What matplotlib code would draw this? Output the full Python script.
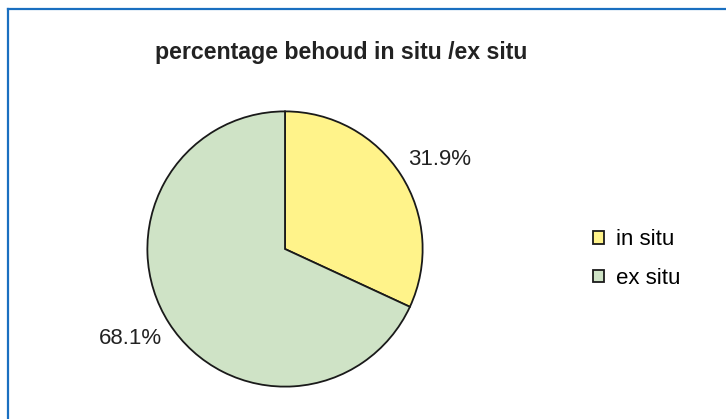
import numpy as np
import matplotlib.pyplot as plt
from matplotlib.lines import Line2D

plt.rcParams['font.family'] = ['Liberation Sans', 'DejaVu Sans']

## data
categories = ['in situ', 'ex situ']
shares = [31.9, 68.1]
colors = ['#fff38a', '#cfe3c6']

W, H = 726, 419
fig = plt.figure(figsize=(W / 100, H / 100), dpi=100)

# blue frame (only left and top edges are visible)
fig.add_artist(Line2D([8 / W, 8 / W], [0, 1 - 9 / H], transform=fig.transFigure,
                      color='#1a6fc0', lw=1.6))
fig.add_artist(Line2D([8 / W, 1], [1 - 9 / H, 1 - 9 / H], transform=fig.transFigure,
                      color='#1a6fc0', lw=1.6))

# pie axes: centre (285, 249) px, radius ~139 px
cx, cy, r = 285, 249, 139
ax = fig.add_axes([(cx - r) / W, (H - cy - r) / H, 2 * r / W, 2 * r / H])
wedges, _ = ax.pie(shares, colors=colors, startangle=90, counterclock=False,
                   wedgeprops=dict(edgecolor='#1a1a1a', linewidth=1.3))
ax.set_xlim(-1.01, 1.01), ax.set_ylim(-1.01, 1.01)
ax.set_aspect('equal')

# percentage labels outside the pie
for w, val in zip(wedges, shares):
    ang = np.deg2rad((w.theta1 + w.theta2) / 2 - 2.5)
    ax.text(1.3 * np.cos(ang), 1.3 * np.sin(ang), f'{val}%', clip_on=False,
            ha='center', va='center', fontsize=16, color='#222222')

fig.text(341 / W, 1 - 52 / H, 'percentage behoud in situ /ex situ',
         ha='center', va='center', fontsize=16.7, fontweight='bold', color='#222222')

fig.legend(wedges, categories, loc='center left', bbox_to_anchor=(593 / W, 1 - 259 / H),
           frameon=False, fontsize=16, handlelength=0.5, handleheight=0.5,
           handletextpad=0.55, labelspacing=0.8, borderpad=0, borderaxespad=0)

fig.savefig('out.png', dpi=100)
